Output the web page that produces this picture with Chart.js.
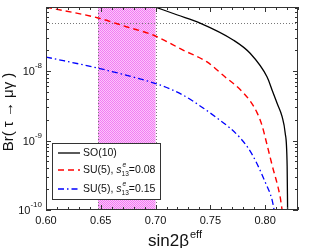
<!DOCTYPE html>
<html>
<head>
<meta charset="utf-8">
<script src="https://cdn.jsdelivr.net/npm/chart.js@4.4.1/dist/chart.umd.min.js"></script>
<style>
  html, body { margin: 0; padding: 0; background: #fff; }
  #wrap { position: relative; width: 314px; height: 248px; }
</style>
</head>
<body>
<div id="wrap"><canvas id="brChart" width="314" height="248"></canvas></div>
<script>
// values
const so10X = [0.700, 0.720, 0.7406, 0.7708, 0.7863, 0.8018, 0.8064, 0.811, 0.8155, 0.8183, 0.8201, 0.8205]
const so10Y = [8.3e-8, 6.4e-8, 4.9e-8, 2.8e-8, 1.8e-8, 8.2e-9, 5.3e-9, 3.4e-9, 2.2e-9, 1.28e-9, 4.2e-10, 1.0e-10]

const su5aX = [0.600, 0.6475, 0.674, 0.6977, 0.7251, 0.747, 0.7635, 0.7726, 0.7799, 0.7863, 0.7927, 0.7973, 0.8018, 0.8064, 0.8137, 0.8155]
const su5aY = [8.3e-8, 5.8e-8, 4.3e-8, 3.3e-8, 2.0e-8, 1.35e-8, 8.2e-9, 6.3e-9, 4.9e-9, 3.7e-9, 2.5e-9, 1.62e-9, 8.6e-10, 4.4e-10, 1.54e-10, 1.0e-10]

const su5bX = [0.600, 0.6475, 0.683, 0.7041, 0.7251, 0.7434, 0.7562, 0.768, 0.7772, 0.7845, 0.7918, 0.800, 0.8064, 0.8082]
const su5bY = [1.59e-8, 1.10e-8, 7.9e-9, 6.3e-9, 4.5e-9, 2.94e-9, 2.1e-9, 1.51e-9, 1.09e-9, 7.8e-10, 4.9e-10, 2.53e-10, 1.39e-10, 1.0e-10]

const bandRange = [0.6475, 0.70]
const expLimit = 4.9e-8

const xTicks = [0.60, 0.65, 0.70, 0.75, 0.80]
const yDecades = [1e-10, 1e-9, 1e-8]

const toPoints = (xs, ys) => xs.map((x, i) => ({ x: x, y: ys[i] }))

const legendRows = [
  { name: 'SO(10)', s13: null },
  { name: 'SU(5),', s13: '=0.08' },
  { name: 'SU(5),', s13: '=0.15' }
]

const FONT = '"Liberation Sans", Arial, sans-serif'

// pink band texture
function bandPattern(ctx) {
  const c = document.createElement('canvas')
  c.width = 2
  c.height = 2
  const p = c.getContext('2d')
  p.fillStyle = '#fbc4fb'
  p.fillRect(0, 0, 2, 2)
  p.fillStyle = '#f27cf2'
  p.fillRect(0, 0, 1, 1)
  p.fillRect(1, 1, 1, 1)
  return ctx.createPattern(c, 'repeat')
}

const decorPlugin = {
  id: 'decor',
  beforeDatasetsDraw(chart) {
    const { ctx, chartArea: a, scales: { x, y } } = chart
    const x0 = x.getPixelForValue(bandRange[0])
    const x1 = x.getPixelForValue(bandRange[1])
    ctx.save()
    ctx.fillStyle = bandPattern(ctx)
    ctx.fillRect(x0, a.top, x1 - x0, a.bottom - a.top)
    ctx.strokeStyle = '#777'
    ctx.lineWidth = 1
    ctx.setLineDash([1, 2])
    ctx.beginPath()
    ctx.moveTo(Math.round(x0) + 0.5, a.top)
    ctx.lineTo(Math.round(x0) + 0.5, a.bottom)
    ctx.moveTo(Math.round(x1) + 0.5, a.top)
    ctx.lineTo(Math.round(x1) + 0.5, a.bottom)
    const yl = Math.round(y.getPixelForValue(expLimit)) + 0.5
    ctx.moveTo(a.left, yl)
    ctx.lineTo(a.right, yl)
    ctx.stroke()
    ctx.restore()
  },
  afterDatasetsDraw(chart) {
    const { ctx, chartArea: a, scales: { x, y } } = chart
    ctx.save()

    // legend box
    const bx = 52, by = 143, bw = 108, bh = 56
    ctx.fillStyle = '#fff'
    ctx.fillRect(bx, by, bw, bh)
    ctx.strokeStyle = '#333'
    ctx.lineWidth = 1
    ctx.strokeRect(bx + 0.5, by + 0.5, bw, bh)
    const rowY = [153, 170, 189]
    chart.data.datasets.forEach((ds, i) => {
      const ry = rowY[i]
      ctx.strokeStyle = ds.borderColor
      ctx.lineWidth = ds.borderWidth
      ctx.setLineDash(ds.borderDash || [])
      ctx.beginPath()
      ctx.moveTo(58, ry)
      ctx.lineTo(80, ry)
      ctx.stroke()
      ctx.setLineDash([])
      ctx.fillStyle = '#111'
      ctx.textBaseline = 'middle'
      ctx.textAlign = 'left'
      ctx.font = '10.5px ' + FONT
      const row = legendRows[i]
      let tx = 83
      ctx.fillText(row.name, tx, ry)
      tx += ctx.measureText(row.name).width + 3
      if (row.s13) {
        ctx.font = 'italic 10.5px ' + FONT
        ctx.fillText('s', tx, ry)
        tx += ctx.measureText('s').width
        ctx.font = 'italic 6.5px ' + FONT
        ctx.fillText('e', tx + 1, ry - 5)
        ctx.font = '6.5px ' + FONT
        ctx.fillText('13', tx, ry + 4)
        tx += ctx.measureText('13').width
        ctx.font = '10.5px ' + FONT
        ctx.fillText(row.s13, tx, ry)
      }
    })

    // frame
    ctx.strokeStyle = '#333'
    ctx.lineWidth = 1
    ctx.strokeRect(a.left + 0.5, a.top + 0.5, a.right - a.left - 1, a.bottom - a.top - 1)

    // inward ticks on all four sides
    ctx.beginPath()
    for (let v = 60; v <= 83; v++) {
      const px = Math.round(x.getPixelForValue(v / 100)) + 0.5
      const len = v % 5 === 0 ? 5 : 3
      ctx.moveTo(px, a.bottom)
      ctx.lineTo(px, a.bottom - len)
      ctx.moveTo(px, a.top)
      ctx.lineTo(px, a.top + len)
    }
    for (let e = -10; e <= -8; e++) {
      for (let m = 1; m <= 9; m++) {
        const val = m * Math.pow(10, e)
        if (val > y.max) break
        const py = Math.round(y.getPixelForValue(val)) + 0.5
        const len = m === 1 ? 5 : 3
        ctx.moveTo(a.left, py)
        ctx.lineTo(a.left + len, py)
        ctx.moveTo(a.right, py)
        ctx.lineTo(a.right - len, py)
      }
    }
    ctx.stroke()

    // x tick labels
    ctx.fillStyle = '#111'
    ctx.font = '11px ' + FONT
    ctx.textAlign = 'center'
    ctx.textBaseline = 'middle'
    xTicks.forEach(v => {
      ctx.fillText(v.toFixed(2), x.getPixelForValue(v), 221)
    })

    // y tick labels 10^n
    yDecades.forEach(v => {
      const py = y.getPixelForValue(v)
      const sup = String(Math.round(Math.log10(v)))
      ctx.font = '8px ' + FONT
      const ws = ctx.measureText(sup).width
      ctx.textAlign = 'left'
      ctx.fillText(sup, 42 - ws, py - 5)
      ctx.font = '11px ' + FONT
      const wb = ctx.measureText('10').width
      ctx.fillText('10', 42 - ws - wb, py + 1)
    })

    // axis titles
    ctx.save()
    ctx.translate(9, 112)
    ctx.rotate(-Math.PI / 2)
    ctx.font = '15px ' + FONT
    ctx.textAlign = 'center'
    ctx.fillText('Br( \u03c4 \u2192 \u03bc\u03b3 )', 0, 0)
    ctx.restore()

    ctx.textAlign = 'left'
    ctx.textBaseline = 'alphabetic'
    ctx.font = '17px ' + FONT
    const main = 'sin2\u03b2'
    const wm = ctx.measureText(main).width
    ctx.fillText(main, 148, 246)
    ctx.font = '11px ' + FONT
    ctx.fillText('eff', 148 + wm + 1, 238)

    ctx.restore()
  }
}

const ctx = document.getElementById('brChart').getContext('2d')
new Chart(ctx, {
  type: 'scatter',
  data: {
    datasets: [
      {
        label: 'SO(10)',
        data: toPoints(so10X, so10Y),
        showLine: true,
        borderColor: '#000',
        borderWidth: 1.3,
        pointRadius: 0,
        cubicInterpolationMode: 'monotone'
      },
      {
        label: 'SU(5), s13=0.08',
        data: toPoints(su5aX, su5aY),
        showLine: true,
        borderColor: '#ff0000',
        borderWidth: 1.4,
        borderDash: [6, 4],
        pointRadius: 0,
        cubicInterpolationMode: 'monotone'
      },
      {
        label: 'SU(5), s13=0.15',
        data: toPoints(su5bX, su5bY),
        showLine: true,
        borderColor: '#0000ff',
        borderWidth: 1.3,
        borderDash: [6, 3, 1.5, 3],
        pointRadius: 0,
        cubicInterpolationMode: 'monotone'
      }
    ]
  },
  options: {
    responsive: false,
    animation: false,
    devicePixelRatio: 1,
    layout: { padding: { left: 46, right: 16, top: 7, bottom: 38 } },
    plugins: {
      legend: { display: false },
      tooltip: { enabled: false }
    },
    scales: {
      x: { type: 'linear', min: 0.60, max: 0.83, display: false },
      y: { type: 'logarithmic', min: 1e-10, max: 8.34e-8, display: false }
    }
  },
  plugins: [decorPlugin]
})
</script>
</body>
</html>
